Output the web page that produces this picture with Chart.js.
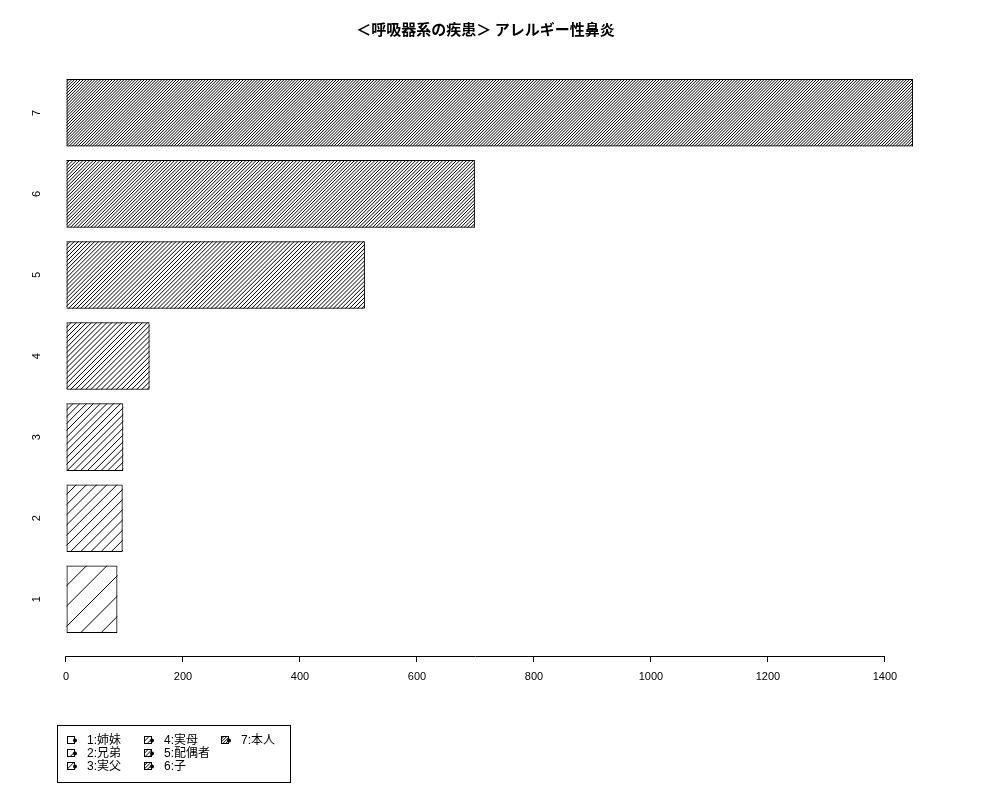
<!DOCTYPE html>
<html>
<head>
<meta charset="utf-8">
<script src="https://cdn.jsdelivr.net/npm/chart.js@4"></script>
<style>
  body { margin: 0; background: #fff; }
  #wrap { width: 1000px; height: 800px; }
</style>
</head>
<body>
<div id="wrap"><canvas id="chart" width="1000" height="800"></canvas></div>
<script>
// Data
const categories = ["1", "2", "3", "4", "5", "6", "7"];
const values = [88, 97, 98, 143, 511, 699, 1448];
const densities = [5, 10, 15, 20, 25, 30, 35]; // hatch lines per inch
const legendLabels = ["1:姉妹", "2:兄弟", "3:実父", "4:実母", "5:配偶者", "6:子", "7:本人"];
const xTicks = [0, 200, 400, 600, 800, 1000, 1200, 1400];
const titleText = "＜呼吸器系の疾患＞ アレルギー性鼻炎";

// bar slots like R barplot (width 1, space 0.2)
const barPos = categories.map((c, i) => 0.7 + 1.2 * i);

const latin = "'Liberation Sans', 'Noto Sans CJK JP', sans-serif";

function drawHatch(ctx, left, top, right, bottom, density) {
    const step = 72 / density * Math.SQRT2;
    const h = bottom - top;
    ctx.save();
    ctx.beginPath();
    ctx.rect(left, top, right - left, h);
    ctx.clip();
    ctx.beginPath();
    for (let c = left - h; c < right + step; c += step) {
        ctx.moveTo(c, bottom);
        ctx.lineTo(c + h, top);
    }
    ctx.strokeStyle = "#000";
    ctx.lineWidth = 1;
    ctx.stroke();
    ctx.restore();
}

// hatch fill for each bar, drawn before the bar borders
const hatchPlugin = {
    id: "hatch",
    beforeDatasetsDraw(chart) {
        const ctx = chart.ctx;
        chart.getDatasetMeta(0).data.forEach((el, i) => {
            const p = el.getProps(["x", "y", "base", "height"], true);
            const left = Math.min(p.x, p.base), right = Math.max(p.x, p.base);
            drawHatch(ctx, left, p.y - p.height / 2, right, p.y + p.height / 2, densities[i]);
        });
    }
};

// R style axis line from first to last tick
const axisLinePlugin = {
    id: "axisLine",
    afterDraw(chart) {
        const sx = chart.scales.x;
        const ctx = chart.ctx;
        const y = chart.chartArea.bottom + 0.5;
        ctx.save();
        ctx.beginPath();
        ctx.moveTo(sx.getPixelForValue(xTicks[0]), y);
        ctx.lineTo(sx.getPixelForValue(xTicks[xTicks.length - 1]), y);
        ctx.strokeStyle = "#000";
        ctx.lineWidth = 1;
        ctx.stroke();
        ctx.restore();
    }
};

// legend box, filled column by column (3 rows)
const legendPlugin = {
    id: "rLegend",
    afterDraw(chart) {
        const ctx = chart.ctx;
        const boxL = 57.5, boxT = 725.5, boxW = 233, boxH = 57;
        const colX = [67, 144, 221];
        const textX = [87, 164, 241];
        const rowY = [740, 753, 766];
        ctx.save();
        ctx.strokeStyle = "#000";
        ctx.lineWidth = 1;
        ctx.strokeRect(boxL, boxT, boxW, boxH);
        ctx.font = "12px " + latin;
        ctx.fillStyle = "#000";
        ctx.textBaseline = "middle";
        legendLabels.forEach((lab, i) => {
            const col = Math.floor(i / 3), row = i % 3;
            const x = colX[col], y = rowY[row];
            drawHatch(ctx, x, y - 3.5, x + 7, y + 3.5, densities[i]);
            ctx.strokeRect(x + 0.5, y - 3.5, 7, 7);
            ctx.beginPath();
            ctx.arc(x + 8, y + 0.5, 2, 0, Math.PI * 2);
            ctx.fill();
            ctx.fillText(lab, textX[col], y + 1);
        });
        ctx.restore();
    }
};

new Chart(document.getElementById("chart"), {
    type: "bar",
    data: {
        datasets: [{
            data: values.map((v, i) => ({ x: v, y: barPos[i] })),
            backgroundColor: "rgba(0,0,0,0)",
            borderColor: "#000",
            borderWidth: 1,
            borderSkipped: false,
            categoryPercentage: 1,
            barPercentage: 1 / 1.2
        }]
    },
    options: {
        indexAxis: "y",
        responsive: false,
        animation: false,
        devicePixelRatio: 1,
        layout: { padding: { left: 24, right: 53, top: 0, bottom: 104 } },
        plugins: {
            legend: { display: false },
            tooltip: { enabled: false },
            title: {
                display: true,
                text: titleText,
                color: "#000",
                font: { family: "'Noto Sans CJK JP', sans-serif", size: 15, weight: "bold" },
                padding: { top: 20, bottom: 19 }
            }
        },
        scales: {
            x: {
                type: "linear",
                min: -41,
                max: 1506,
                afterBuildTicks: (s) => { s.ticks = xTicks.map(v => ({ value: v })); },
                afterFit: (s) => { s.height = 40; },
                grid: { display: true, drawOnChartArea: false, drawTicks: true, tickLength: 6, color: "#000" },
                border: { display: false },
                ticks: {
                    color: "#000",
                    font: { family: latin, size: 11 },
                    padding: 8,
                    maxRotation: 0,
                    callback: (v) => String(v)
                }
            },
            y: {
                type: "linear",
                offset: false,
                min: -0.14,
                max: 8.726,
                afterBuildTicks: (s) => { s.ticks = barPos.map(v => ({ value: v })); },
                afterFit: (s) => { s.width = 18; },
                grid: { display: false, offset: false },
                border: { display: false },
                ticks: {
                    color: "#000",
                    font: { family: latin, size: 11 },
                    padding: -3,
                    labelOffset: -3,
                    minRotation: 90,
                    maxRotation: 90,
                    callback: (v, i) => categories[i]
                }
            }
        }
    },
    plugins: [hatchPlugin, axisLinePlugin, legendPlugin]
});
</script>
</body>
</html>
